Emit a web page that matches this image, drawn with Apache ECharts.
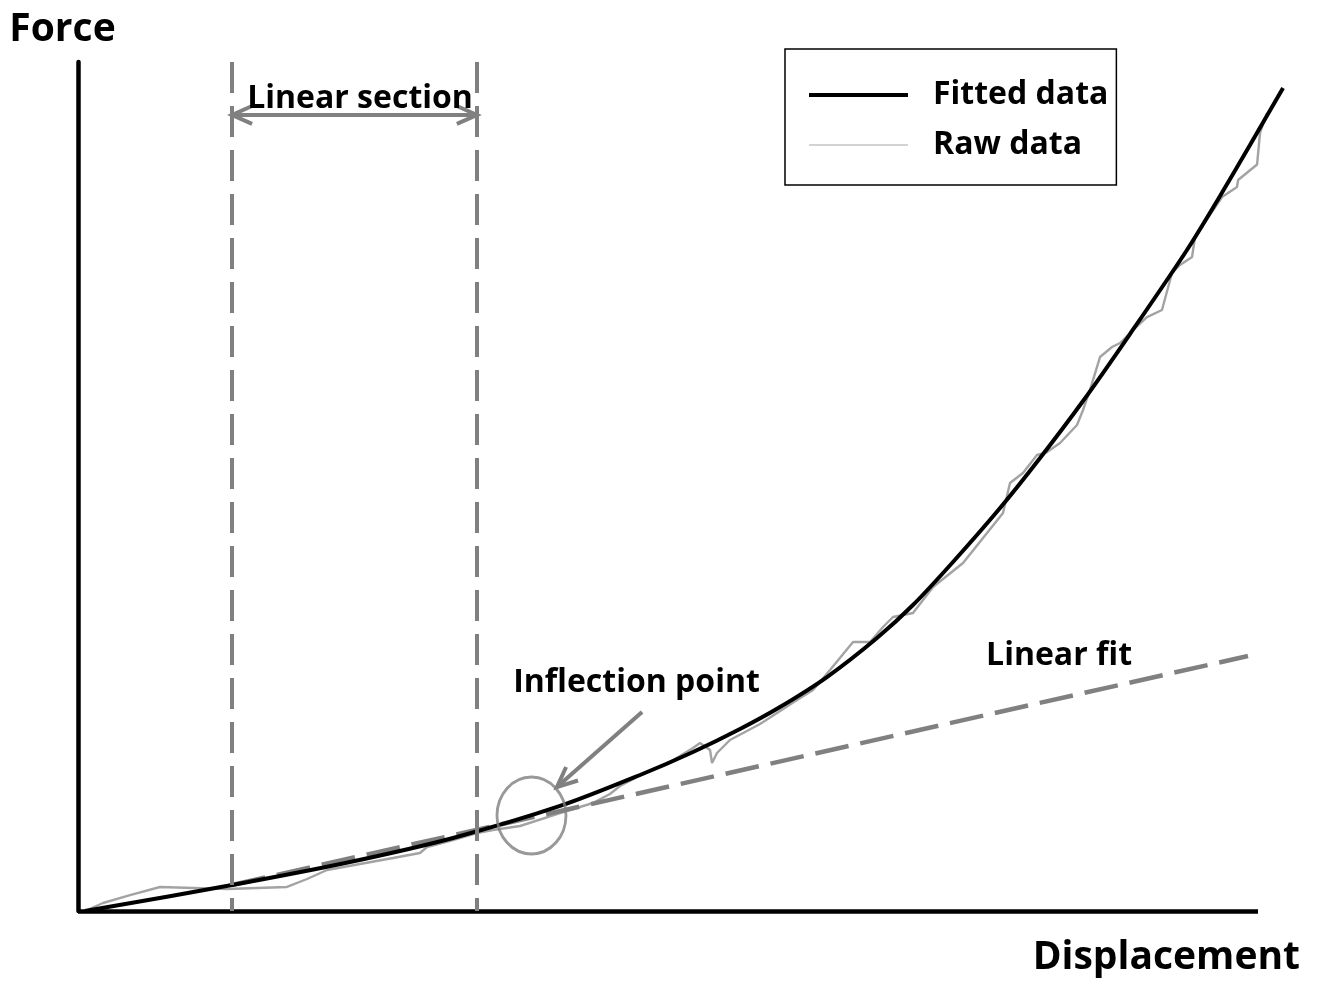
<!DOCTYPE html>
<html>
<head>
<meta charset="utf-8">
<title>Force vs Displacement</title>
<script src="https://cdn.jsdelivr.net/npm/echarts@6/dist/echarts.min.js"></script>
<style>
  html, body { margin: 0; padding: 0; background: #ffffff; }
  #chart { width: 1323px; height: 982px; }
</style>
</head>
<body>
<div id="chart"></div>
<script>
// Fitted force-displacement curve (arbitrary units, drawn axis spans 0..100)
const fittedX = [0.59, 13.05, 23.05, 31.78, 40.85, 47.63, 52.12, 56.10, 59.49, 63.47, 67.71, 70.76, 74.15, 78.14, 81.53, 85.17, 89.15, 93.98, 96.78, 99.32, 102.12];
const fittedY = [0, 3.06, 5.77, 8.60, 12.37, 16.02, 18.73, 21.44, 24.03, 27.56, 32.16, 36.04, 41.11, 47.47, 53.36, 60.07, 67.96, 77.86, 84.22, 90.22, 96.94];

// Raw measurement trace
const rawX = [0.59, 2.12, 4.41, 6.95, 12.63, 17.71, 19.41, 21.10, 23.90, 26.69, 28.98, 29.58, 31.78, 33.81, 35.17, 37.46, 40.85, 43.64, 45.08, 45.93, 48.05, 50.17, 52.12, 52.71, 53.56, 53.73, 54.15, 55.25, 57.80, 60.93, 62.29, 63.73, 65.68, 67.12, 68.22, 69.07, 70.76, 72.46, 75.00, 78.39, 78.98, 80.08, 81.27, 82.12, 83.22, 84.66, 85.17, 85.76, 86.61, 87.63, 88.31, 89.58, 90.59, 91.86, 92.71, 93.39, 94.41, 94.66, 96.95, 98.22, 98.31, 99.92, 100.17, 100.76];
const rawY = [0, 0.94, 1.88, 2.83, 2.59, 2.83, 3.77, 4.83, 5.54, 6.24, 6.83, 7.54, 8.36, 9.19, 9.54, 10.01, 11.54, 12.72, 13.78, 14.72, 16.25, 17.55, 19.20, 19.79, 18.96, 17.43, 18.61, 20.14, 22.03, 24.85, 26.03, 28.39, 31.68, 31.68, 33.45, 34.63, 35.10, 38.16, 40.99, 46.88, 50.41, 51.59, 53.71, 54.06, 55.12, 57.24, 59.01, 61.37, 65.25, 66.43, 66.90, 68.67, 69.96, 70.79, 75.15, 76.09, 77.03, 79.39, 84.10, 85.28, 86.10, 87.93, 91.64, 93.99];

// Linear fit over the linear section, extrapolated
const linearX = [13.05, 99.15];
const linearY = [3.06, 30.04];

// Bounds of the linear section
const sectionX = [13.05, 33.81];

// Drawn extent of the displacement axis
const axisX = [0, 100];

// Inflection point marker (centre)
const inflection = [38.43, 11.25];

// Annotation arrows: [x1, y1, x2, y2, heads]
const arrows = [
  [13.05, 93.76, 33.81, 93.76, 'both'],
  [47.80, 23.44, 40.59, 14.60, 'end']
];

// Annotation texts
const noteNames = ['Linear section', 'Inflection point', 'Linear fit'];
const noteX = [23.9, 47.33, 83.14];
const noteY = [95.62, 26.86, 30.0];

const FONT = '"Open Sans", Lato, sans-serif';
const GREY = '#808080';

const chart = echarts.init(document.getElementById('chart'), null, { renderer: 'canvas' });

function chevron(p, q, len, spread) {
  // open arrow head at p, pointing away from q
  const ang = Math.atan2(p[1] - q[1], p[0] - q[0]);
  const a1 = ang + Math.PI - spread, a2 = ang + Math.PI + spread;
  return [
    [p[0] + len * Math.cos(a1), p[1] + len * Math.sin(a1)],
    p,
    [p[0] + len * Math.cos(a2), p[1] + len * Math.sin(a2)]
  ];
}

chart.setOption({
  animation: false,
  backgroundColor: '#ffffff',
  // the plot area runs a little past the drawn x axis so the curve's tip fits
  grid: { left: 78, right: 33, top: 62, bottom: 71, containLabel: false, outerBoundsMode: 'none' },
  xAxis: {
    type: 'value', min: 0, max: 102.71,
    name: 'Displacement', nameLocation: 'end', nameGap: 10,
    nameTextStyle: { fontFamily: FONT, fontWeight: 'bold', fontSize: 39, color: '#000', align: 'right', verticalAlign: 'top', lineHeight: 94 },
    axisLine: { show: false },
    axisTick: { show: false }, axisLabel: { show: false }, splitLine: { show: false }
  },
  yAxis: {
    type: 'value', min: 0, max: 100,
    name: 'Force', nameLocation: 'end', nameGap: 13,
    nameTextStyle: { fontFamily: FONT, fontWeight: 'bold', fontSize: 39, color: '#000', padding: [0, 31, 0, 0] },
    axisLine: { show: true, lineStyle: { color: '#000', width: 4.5 } },
    axisTick: { show: false }, axisLabel: { show: false }, splitLine: { show: false }
  },
  legend: {
    orient: 'vertical', left: 785, top: 49,
    itemWidth: 99, itemHeight: 30, itemGap: 18,
    padding: [30, 8, 24, 22],
    borderColor: '#000', borderWidth: 1.5, borderRadius: 0,
    selectedMode: false,
    itemStyle: { opacity: 0 },
    textStyle: { fontFamily: FONT, fontWeight: 'bold', fontSize: 32, color: '#000', padding: [0, 0, 0, 20] },
    data: [
      { name: 'Fitted data', lineStyle: { color: '#000', width: 4, opacity: 1 } },
      { name: 'Raw data', lineStyle: { color: '#c4c4c4', width: 1.5, opacity: 1 } }
    ]
  },
  series: [
    {
      name: 'Axis', type: 'line', data: [], clip: false, z: 7,
      markLine: {
        silent: true, symbol: ['none', 'none'], label: { show: false },
        lineStyle: { color: '#000', width: 4.5, type: 'solid' },
        data: [[{ coord: [axisX[0], 0] }, { coord: [axisX[1], 0] }]]
      }
    },
    {
      name: 'Raw data', type: 'line', symbol: 'none', clip: false, z: 2,
      lineStyle: { color: '#a3a3a3', width: 2.4 },
      data: rawX.map((x, i) => [x, rawY[i]])
    },
    {
      name: 'Linear fit', type: 'line', symbol: 'none', clip: false, z: 3,
      lineStyle: { color: GREY, width: 4.5, type: [34, 12] },
      data: linearX.map((x, i) => [x, linearY[i]])
    },
    {
      name: 'Section', type: 'line', data: [], z: 3,
      markLine: {
        silent: true, symbol: ['none', 'none'], label: { show: false },
        lineStyle: { color: GREY, width: 4, type: [31, 13] },
        data: sectionX.map(x => [{ coord: [x, 100] }, { coord: [x, 0] }])
      }
    },
    {
      name: 'Fitted data', type: 'line', symbol: 'none', smooth: 0.3, clip: false, z: 4,
      lineStyle: { color: '#000', width: 4 },
      data: fittedX.map((x, i) => [x, fittedY[i]])
    },
    {
      name: 'Inflection', type: 'scatter', symbol: 'circle', symbolSize: [69, 77], z: 5,
      itemStyle: { color: 'rgba(0,0,0,0)', borderColor: GREY, borderWidth: 3 },
      data: [inflection]
    },
    {
      name: 'Arrows', type: 'custom', z: 5, clip: false,
      renderItem: function (params, api) {
        const p1 = api.coord([api.value(0), api.value(1)]);
        const p2 = api.coord([api.value(2), api.value(3)]);
        const heads = arrows[params.dataIndex][4];
        const style = { stroke: GREY, lineWidth: 4, fill: null };
        const children = [{ type: 'polyline', shape: { points: [p1, p2] }, style: style }];
        children.push({ type: 'polyline', shape: { points: chevron(p2, p1, 22, 0.42) }, style: style });
        if (heads === 'both') {
          children.push({ type: 'polyline', shape: { points: chevron(p1, p2, 22, 0.42) }, style: style });
        }
        return { type: 'group', children: children };
      },
      data: arrows.map(a => [a[0], a[1], a[2], a[3]])
    },
    {
      name: 'Notes', type: 'custom', z: 6, clip: false,
      renderItem: function (params, api) {
        const p = api.coord([api.value(0), api.value(1)]);
        return {
          type: 'text', x: p[0], y: p[1],
          style: {
            text: noteNames[params.dataIndex],
            fill: '#000', align: 'center', verticalAlign: 'middle',
            font: 'bold 32px ' + FONT
          }
        };
      },
      data: noteX.map((x, i) => [x, noteY[i]])
    }
  ]
});
</script>
</body>
</html>
